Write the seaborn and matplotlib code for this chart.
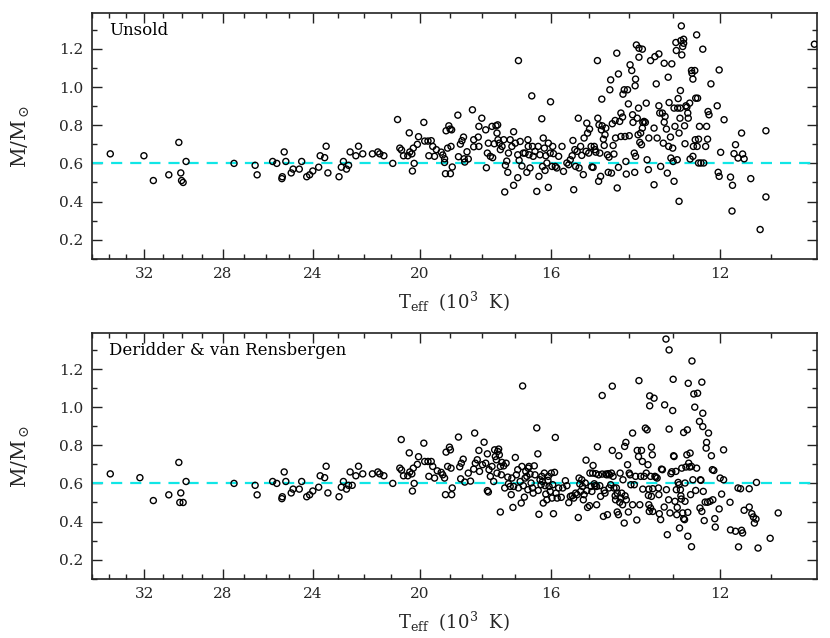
import matplotlib
matplotlib.use("Agg")
import matplotlib.pyplot as plt
import seaborn as sns
import pandas as pd
from matplotlib.ticker import FixedLocator, FixedFormatter, NullFormatter

# ---------------- data (Teff in 10^3 K, mass in solar masses) ----------------
unsold_teff = [
    33.91, 32.02, 31.51, 30.69, 30.17, 30.07, 30.03, 29.95, 29.80, 27.46,
    26.49, 26.40, 25.71, 25.53, 25.31, 25.29, 25.21, 25.14, 24.91, 24.83,
    24.57, 24.47, 24.26, 24.14, 24.01, 23.77, 23.71, 23.53, 23.47, 23.40,
    22.96, 22.87, 22.79, 22.67, 22.59, 22.53, 22.31, 22.21, 22.05, 21.69,
    21.49, 21.42, 21.27, 20.95, 20.78, 20.70, 20.64, 20.57, 20.42, 20.37,
    20.35, 20.28, 20.26, 20.23, 20.20, 20.09, 20.05,
    19.87, 19.84, 19.73, 19.62, 19.70, 19.57, 19.51, 19.45, 19.29, 19.24, 19.18, 19.18, 19.15, 19.13, 19.08, 19.04,
    19.00, 18.97, 18.95, 18.99, 18.93, 18.75, 18.73, 18.67, 18.62, 18.57, 18.55, 18.53, 18.46, 18.42, 18.29, 18.25,
    18.25, 18.11, 18.09, 18.00, 18.09,
    17.88, 17.86, 17.83, 17.80, 17.74, 17.69, 17.67, 17.62, 17.57, 17.54, 17.52, 17.51, 17.47, 17.44, 17.39, 17.34,
    17.31, 17.29, 17.25, 17.22, 17.20, 17.15, 17.10, 17.05, 17.05,
    17.00, 16.93, 16.93, 16.91, 16.89, 16.86, 16.81, 16.77, 16.72, 16.67, 16.64, 16.63, 16.61, 16.58, 16.53, 16.51,
    16.49, 16.44, 16.39, 16.35, 16.33, 16.30, 16.25, 16.23, 16.21, 16.18, 16.16, 16.14, 16.11, 16.07, 16.07, 16.02,
    16.01,
    15.97, 15.95, 15.93, 15.88, 15.84, 15.79, 15.70, 15.66, 15.57, 15.52, 15.48, 15.43, 15.41, 15.39, 15.36, 15.34,
    15.30, 15.27, 15.25, 15.21, 15.18, 15.14, 15.12, 15.07, 15.05, 15.03,
    15.00, 14.98, 14.94, 14.92, 14.89, 14.86, 14.84, 14.82, 14.78, 14.77, 14.75, 14.74, 14.72, 14.70, 14.68, 14.67,
    14.66, 14.63, 14.61, 14.59, 14.57, 14.53, 14.51, 14.49, 14.47, 14.45, 14.43, 14.41, 14.39, 14.37, 14.34, 14.33,
    14.30, 14.29, 14.26, 14.26, 14.23, 14.20, 14.20, 14.16, 14.15, 14.12, 14.10, 14.08, 14.07, 14.04, 14.02,
    14.00, 13.98, 13.94, 13.92, 13.91, 13.88, 13.87, 13.86, 13.85, 13.85, 13.83, 13.81, 13.79, 13.78, 13.77, 13.77,
    13.75, 13.73, 13.71, 13.69, 13.69, 13.68, 13.65, 13.62, 13.60, 13.58, 13.55, 13.54, 13.50, 13.42, 13.42, 13.40,
    13.37, 13.35, 13.31, 13.31, 13.29, 13.27, 13.23, 13.21, 13.19, 13.19, 13.17, 13.14, 13.12, 13.10, 13.09, 13.08,
    13.05, 13.04, 13.02,
    13.00, 12.99, 12.97, 12.97, 12.95, 12.93, 12.92, 12.90, 12.89, 12.88, 12.86, 12.86, 12.84, 12.83, 12.83, 12.82,
    12.81, 12.80, 12.78, 12.76, 12.76, 12.74, 12.73, 12.71, 12.69, 12.67, 12.66, 12.63, 12.62, 12.59, 12.58, 12.56,
    12.56, 12.55, 12.52, 12.51, 12.50, 12.48, 12.47, 12.46, 12.44, 12.44, 12.42, 12.39, 12.35, 12.33, 12.29, 12.27,
    12.25, 12.24, 12.22, 12.18, 12.05, 12.03, 12.01, 12.01,
    11.98, 11.91, 11.78, 11.75, 11.74, 11.71, 11.68, 11.63, 11.56, 11.54, 11.51, 11.38, 11.20, 11.09, 11.09, 10.21,
]
unsold_mass = [
    0.65, 0.64, 0.51, 0.54, 0.71, 0.55, 0.51, 0.50, 0.61, 0.60,
    0.59, 0.54, 0.61, 0.60, 0.52, 0.53, 0.66, 0.61, 0.55, 0.57,
    0.57, 0.61, 0.53, 0.54, 0.56, 0.58, 0.64, 0.63, 0.69, 0.55,
    0.53, 0.58, 0.61, 0.57, 0.59, 0.66, 0.64, 0.69, 0.65, 0.65,
    0.66, 0.65, 0.64, 0.60, 0.83, 0.68, 0.67, 0.64, 0.64, 0.76,
    0.66, 0.65, 0.56, 0.68, 0.60, 0.70, 0.74,
    0.815, 0.717, 0.717, 0.719, 0.640, 0.689, 0.637, 0.672, 0.659, 0.644, 0.624, 0.605, 0.546, 0.771, 0.680, 0.797,
    0.780, 0.689, 0.776, 0.546, 0.581, 0.853, 0.635, 0.701, 0.719, 0.738, 0.624, 0.607, 0.661, 0.623, 0.881, 0.724,
    0.687, 0.738, 0.689, 0.837, 0.794,
    0.776, 0.577, 0.654, 0.706, 0.637, 0.794, 0.630, 0.703, 0.797, 0.759, 0.802, 0.724, 0.706, 0.672, 0.689, 0.724,
    0.450, 0.590, 0.612, 0.553, 0.654, 0.724, 0.689, 0.485, 0.766,
    0.706, 0.645, 0.525, 1.139, 0.616, 0.715, 0.586, 0.654, 0.654, 0.553, 0.724, 0.689, 0.645, 0.576, 0.954, 0.689,
    0.637, 0.663, 0.453, 0.689, 0.532, 0.645, 0.834, 0.584, 0.733, 0.680, 0.563, 0.640, 0.602, 0.474, 0.706, 0.654,
    0.923,
    0.584, 0.689, 0.651, 0.584, 0.576, 0.637, 0.689, 0.558, 0.602, 0.593, 0.619, 0.640, 0.720, 0.462, 0.672, 0.584,
    0.663, 0.837, 0.576, 0.689, 0.642, 0.541, 0.733, 0.663, 0.811, 0.759,
    0.654, 0.780, 0.689, 0.581, 0.579, 0.689, 0.672, 0.659, 1.139, 0.837, 0.506, 0.802, 0.654, 0.532, 0.776, 0.937,
    0.797, 0.727, 0.694, 0.750, 0.785, 0.645, 0.553, 0.633, 0.986, 1.038, 0.549, 0.808, 0.694, 0.649, 0.825, 0.733,
    1.178, 0.471, 1.069, 0.579, 0.820, 0.864, 0.741, 0.843, 0.963, 0.986, 0.741, 0.610, 0.544, 0.986, 0.912,
    0.745, 1.117, 1.087, 0.855, 0.815, 0.654, 0.553, 1.007, 1.042, 0.637, 1.221, 0.837, 0.750, 0.890, 1.204, 1.157,
    0.710, 0.759, 0.698, 1.199, 0.785, 0.815, 0.820, 0.815, 0.916, 0.619, 0.567, 0.733, 1.139, 0.488, 0.785, 1.160,
    1.017, 0.733, 1.174, 0.902, 0.864, 0.584, 0.864, 0.706, 1.125, 0.816, 0.846, 0.780, 0.549, 1.052, 0.689, 0.919,
    0.738, 0.628, 1.122,
    0.680, 0.610, 0.506, 0.890, 0.794, 1.234, 1.192, 0.619, 0.890, 0.940, 0.401, 0.759, 0.837, 0.890, 0.982, 1.244,
    1.321, 1.169, 1.213, 1.251, 1.230, 0.797, 0.703, 0.902, 0.895, 0.864, 0.837, 0.916, 0.623, 1.087, 1.073, 1.042,
    0.637, 0.689, 1.087, 0.724, 0.942, 1.274, 0.689, 0.942, 0.602, 0.727, 0.794, 0.602, 1.199, 0.602, 0.689, 0.794,
    0.727, 0.872, 0.855, 1.017, 0.902, 0.553, 0.532, 1.090,
    0.658, 0.829, 0.528, 0.350, 0.485, 0.651, 0.698, 0.628, 0.759, 0.649, 0.624, 0.520, 0.253, 0.771, 0.424, 1.225,
]

dvr_teff = [
    33.91, 32.24, 31.51, 30.69, 30.17, 30.07, 30.12, 29.95, 29.80, 27.46,
    26.49, 26.40, 25.71, 25.53, 25.31, 25.29, 25.21, 25.14, 24.91, 24.83,
    24.57, 24.47, 24.26, 24.14, 24.01, 23.77, 23.71, 23.53, 23.47, 23.40,
    22.96, 22.87, 22.79, 22.67, 22.59, 22.53, 22.45, 22.31, 22.21, 22.05,
    21.69, 21.49, 21.42, 21.27, 20.95, 20.65, 20.70, 20.64, 20.57, 20.42,
    20.37, 20.35, 20.28, 20.26, 20.23, 20.20, 20.09, 20.05,
    19.87, 19.84, 19.73, 19.62, 19.57, 19.70, 19.51, 19.42, 19.29, 19.24, 19.18, 19.15, 19.13, 19.08,
    19.02, 18.99, 18.97, 18.95, 18.93, 18.73, 18.69, 18.64, 18.58, 18.66, 18.53, 18.42, 18.35, 18.25, 18.22, 18.20,
    18.14, 18.09, 18.07,
    17.98, 17.93, 17.88, 17.83, 17.83, 17.80, 17.78, 17.74, 17.69, 17.64, 17.61, 17.59, 17.56, 17.54, 17.52, 17.49,
    17.47, 17.44, 17.44, 17.41, 17.39, 17.34, 17.31, 17.27, 17.22, 17.20, 17.15, 17.12, 17.10, 17.07, 17.05,
    17.00, 16.97, 16.93, 16.91, 16.86, 16.83, 16.81, 16.79, 16.77, 16.74, 16.72, 16.70, 16.67, 16.64, 16.63, 16.61,
    16.58, 16.55, 16.51, 16.49, 16.46, 16.44, 16.39, 16.36, 16.35, 16.33, 16.30, 16.27, 16.25, 16.23, 16.21, 16.18,
    16.16, 16.14, 16.11, 16.08, 16.07, 16.05, 16.02,
    15.99, 15.97, 15.95, 15.93, 15.90, 15.88, 15.86, 15.83, 15.79, 15.72, 15.68, 15.61, 15.57, 15.52, 15.48, 15.43,
    15.39, 15.34, 15.30, 15.27, 15.25, 15.23, 15.21, 15.18, 15.16, 15.14, 15.12, 15.09, 15.07, 15.05, 15.03,
    14.98, 14.97, 14.94, 14.92, 14.90, 14.89, 14.86, 14.84, 14.82, 14.80, 14.80, 14.78, 14.75, 14.72, 14.70, 14.66,
    14.66, 14.63, 14.61, 14.59, 14.57, 14.55, 14.53, 14.51, 14.49, 14.48, 14.45, 14.43, 14.41, 14.41, 14.39, 14.37,
    14.34, 14.33, 14.31, 14.29, 14.29, 14.26, 14.25, 14.23, 14.22, 14.20, 14.18, 14.16, 14.15, 14.12, 14.11, 14.10,
    14.08, 14.07, 14.04, 14.02,
    14.00, 13.98, 13.96, 13.92, 13.92, 13.88, 13.85, 13.82, 13.81, 13.78, 13.77, 13.75, 13.73, 13.71, 13.69, 13.68,
    13.65, 13.62, 13.60, 13.58, 13.56, 13.55, 13.54, 13.54, 13.53, 13.52, 13.52, 13.50, 13.50, 13.48, 13.48, 13.46,
    13.45, 13.45, 13.42, 13.40, 13.38, 13.35, 13.32, 13.31, 13.30, 13.27, 13.25, 13.23, 13.19, 13.18, 13.15, 13.14,
    13.12, 13.09, 13.08, 13.08, 13.06, 13.04, 13.02,
    13.00, 12.99, 12.98, 12.97, 12.95, 12.93, 12.92, 12.91, 12.90, 12.88, 12.86, 12.85, 12.83, 12.82, 12.81, 12.80,
    12.78, 12.76, 12.76, 12.74, 12.73, 12.73, 12.71, 12.69, 12.68, 12.67, 12.67, 12.66, 12.65, 12.63, 12.62, 12.61,
    12.59, 12.59, 12.58, 12.56, 12.54, 12.52, 12.50, 12.48, 12.46, 12.42, 12.41, 12.40, 12.39, 12.37, 12.37, 12.35,
    12.35, 12.34, 12.32, 12.30, 12.28, 12.27, 12.25, 12.23, 12.20, 12.17, 12.15, 12.14, 12.12, 12.10, 12.09, 12.01,
    11.99, 11.96, 11.92, 11.92, 11.79, 11.78, 11.68, 11.63, 11.62, 11.58, 11.56, 11.54, 11.51, 11.41, 11.41, 11.36,
    11.33, 11.31, 11.28, 11.27, 11.24, 11.01, 10.86,
]
dvr_mass = [
    0.65, 0.63, 0.51, 0.54, 0.71, 0.55, 0.50, 0.50, 0.61, 0.60,
    0.59, 0.54, 0.61, 0.60, 0.52, 0.53, 0.66, 0.61, 0.55, 0.57,
    0.57, 0.61, 0.53, 0.54, 0.56, 0.58, 0.64, 0.63, 0.69, 0.55,
    0.53, 0.58, 0.61, 0.57, 0.59, 0.66, 0.59, 0.64, 0.69, 0.65,
    0.65, 0.66, 0.65, 0.64, 0.60, 0.83, 0.68, 0.67, 0.64, 0.64,
    0.76, 0.66, 0.65, 0.56, 0.68, 0.60, 0.70, 0.74,
    0.811, 0.715, 0.715, 0.715, 0.689, 0.637, 0.628, 0.666, 0.658, 0.645, 0.628, 0.541, 0.764, 0.689,
    0.790, 0.776, 0.680, 0.541, 0.576, 0.843, 0.687, 0.706, 0.727, 0.624, 0.607, 0.654, 0.612, 0.675, 0.864, 0.706,
    0.724, 0.773, 0.663,
    0.698, 0.816, 0.706, 0.755, 0.562, 0.555, 0.672, 0.637, 0.689, 0.610, 0.776, 0.741, 0.724, 0.654, 0.768, 0.780,
    0.750, 0.689, 0.450, 0.645, 0.710, 0.692, 0.576, 0.706, 0.633, 0.598, 0.584, 0.541, 0.628, 0.474, 0.584,
    0.736, 0.645, 0.672, 0.576, 0.610, 0.497, 0.689, 1.111, 0.588, 0.528, 0.628, 0.663, 0.637, 0.567, 0.680, 0.689,
    0.649, 0.602, 0.576, 0.549, 0.692, 0.645, 0.891, 0.755, 0.563, 0.438, 0.619, 0.593, 0.637, 0.610, 0.497, 0.654,
    0.588, 0.544, 0.514, 0.616, 0.637, 0.584, 0.558,
    0.654, 0.523, 0.593, 0.441, 0.658, 0.841, 0.549, 0.523, 0.576, 0.527, 0.576, 0.614, 0.588, 0.499, 0.532, 0.535,
    0.523, 0.549, 0.541, 0.421, 0.628, 0.597, 0.558, 0.619, 0.584, 0.514, 0.541, 0.602, 0.722, 0.562, 0.474,
    0.483, 0.654, 0.584, 0.558, 0.654, 0.694, 0.598, 0.588, 0.651, 0.488, 0.584, 0.792, 0.645, 0.588, 0.532, 1.061,
    0.649, 0.427, 0.563, 0.549, 0.649, 0.645, 0.436, 0.651, 0.576, 0.645, 0.593, 0.654, 1.110, 0.773, 0.637, 0.576,
    0.535, 0.514, 0.576, 0.549, 0.450, 0.436, 0.745, 0.501, 0.654, 0.523, 0.549, 0.488, 0.619, 0.392, 0.794, 0.535,
    0.815, 0.514, 0.698, 0.450,
    0.654, 0.645, 0.593, 0.864, 0.488, 0.593, 0.637, 0.408, 0.773, 0.741, 1.139, 0.488, 0.637, 0.773, 0.715, 0.570,
    0.637, 0.890, 0.654, 0.881, 0.698, 0.537, 0.570, 0.488, 0.453, 1.059, 1.007, 0.471, 0.637, 0.532, 0.790, 0.750,
    0.572, 0.453, 1.047, 0.637, 0.633, 0.628, 0.576, 0.541, 0.441, 0.410, 0.675, 0.672, 0.476, 1.012, 1.357, 0.567,
    0.331, 0.514, 1.300, 0.885, 0.445, 0.651, 0.661,
    0.982, 1.146, 0.745, 0.741, 0.506, 0.663, 0.567, 0.436, 0.474, 0.605, 0.593, 0.366, 0.567, 0.535, 0.518, 0.680,
    0.445, 0.867, 0.415, 0.410, 0.506, 0.602, 0.686, 0.750, 0.881, 0.448, 0.323, 1.125, 0.706, 0.686, 0.759, 0.541,
    0.268, 0.689, 1.242, 0.619, 1.069, 1.000, 0.563, 0.680, 1.073, 0.925, 0.471, 0.619, 0.616, 0.453, 1.131, 0.968,
    0.898, 0.558, 0.405, 0.502, 0.785, 0.815, 0.501, 0.864, 0.506, 0.745, 0.672, 0.514, 0.668, 0.415, 0.371, 0.466,
    0.628, 0.544, 0.619, 0.776, 0.501, 0.356, 0.349, 0.576, 0.267, 0.572, 0.354, 0.340, 0.459, 0.572, 0.476, 0.441,
    0.424, 0.392, 0.413, 0.605, 0.261, 0.312, 0.445,
]

panel_titles = ["Unsold", "Deridder & van Rensbergen"]
reference_mass = 0.6
x_major = [32, 28, 24, 20, 16, 12]
x_major_labels = ["32", "28", "24", "20", "16", "12"]
x_minor = [t for t in range(11, 36) if t not in x_major]
y_major = [0.2, 0.4, 0.6, 0.8, 1.0, 1.2]
y_major_labels = ["0.2", "0.4", "0.6", "0.8", "1.0", "1.2"]
y_minor = [0.1, 0.3, 0.5, 0.7, 0.9, 1.1, 1.3]

assert len(unsold_teff) == len(unsold_mass), (len(unsold_teff), len(unsold_mass))
assert len(dvr_teff) == len(dvr_mass), (len(dvr_teff), len(dvr_mass))

# ---------------- styling ----------------
sns.set_theme(style="ticks")
plt.rcParams["font.family"] = ["DejaVu Serif", "DejaVu Sans"]
plt.rcParams["mathtext.fontset"] = "dejavuserif"

fig = plt.figure(figsize=(8.3, 6.38), dpi=100)
ax_top = fig.add_axes([0.1105, 0.5945, 0.8735, 0.3846])
ax_bot = fig.add_axes([0.1105, 0.0929, 0.8735, 0.3846])

datasets = [
    pd.DataFrame({"teff": unsold_teff, "mass": unsold_mass}),
    pd.DataFrame({"teff": dvr_teff, "mass": dvr_mass}),
]

for ax, df, title in zip([ax_top, ax_bot], datasets, panel_titles):
    ax.axhline(reference_mass, color="#10e6e6", lw=1.6, dashes=(5.0, 3.6), zorder=1)
    sns.scatterplot(data=df, x="teff", y="mass", ax=ax, marker="o", s=19,
                    linewidth=1.0, legend=False, zorder=3)
    coll = ax.collections[-1]
    coll.set_facecolor("none")
    coll.set_edgecolor("black")
    coll.set_clip_on(True)

    ax.set_xscale("log")
    ax.set_xlim(35.0, 10.17)
    ax.set_ylim(0.1, 1.387)

    ax.xaxis.set_major_locator(FixedLocator(x_major))
    ax.xaxis.set_major_formatter(FixedFormatter(x_major_labels))
    ax.xaxis.set_minor_locator(FixedLocator(x_minor))
    ax.xaxis.set_minor_formatter(NullFormatter())
    ax.yaxis.set_major_locator(FixedLocator(y_major))
    ax.yaxis.set_major_formatter(FixedFormatter(y_major_labels))
    ax.yaxis.set_minor_locator(FixedLocator(y_minor))

    ax.tick_params(which="both", direction="in", top=True, right=True,
                   width=1.0, color="#222222")
    ax.tick_params(which="major", length=7, labelsize=11)
    ax.tick_params(which="minor", length=3.5)
    ax.tick_params(axis="x", which="major", pad=6)
    ax.tick_params(axis="y", which="major", pad=6)
    for sp in ax.spines.values():
        sp.set_linewidth(1.2)
        sp.set_color("#222222")

    ax.set_xlabel(r"T$_\mathregular{eff}$  (10$^\mathregular{3}$  K)", fontsize=13)
    ax.set_ylabel(r"M/M$_\odot$", fontsize=14.5)
    ax.xaxis.set_label_coords(0.5, -0.125)
    ax.yaxis.set_label_coords(-0.082, 0.5)
    ax.text(0.024, 0.91, title, transform=ax.transAxes, fontsize=12,
            ha="left", va="baseline", color="black")

fig.savefig("out.png", dpi=100)
